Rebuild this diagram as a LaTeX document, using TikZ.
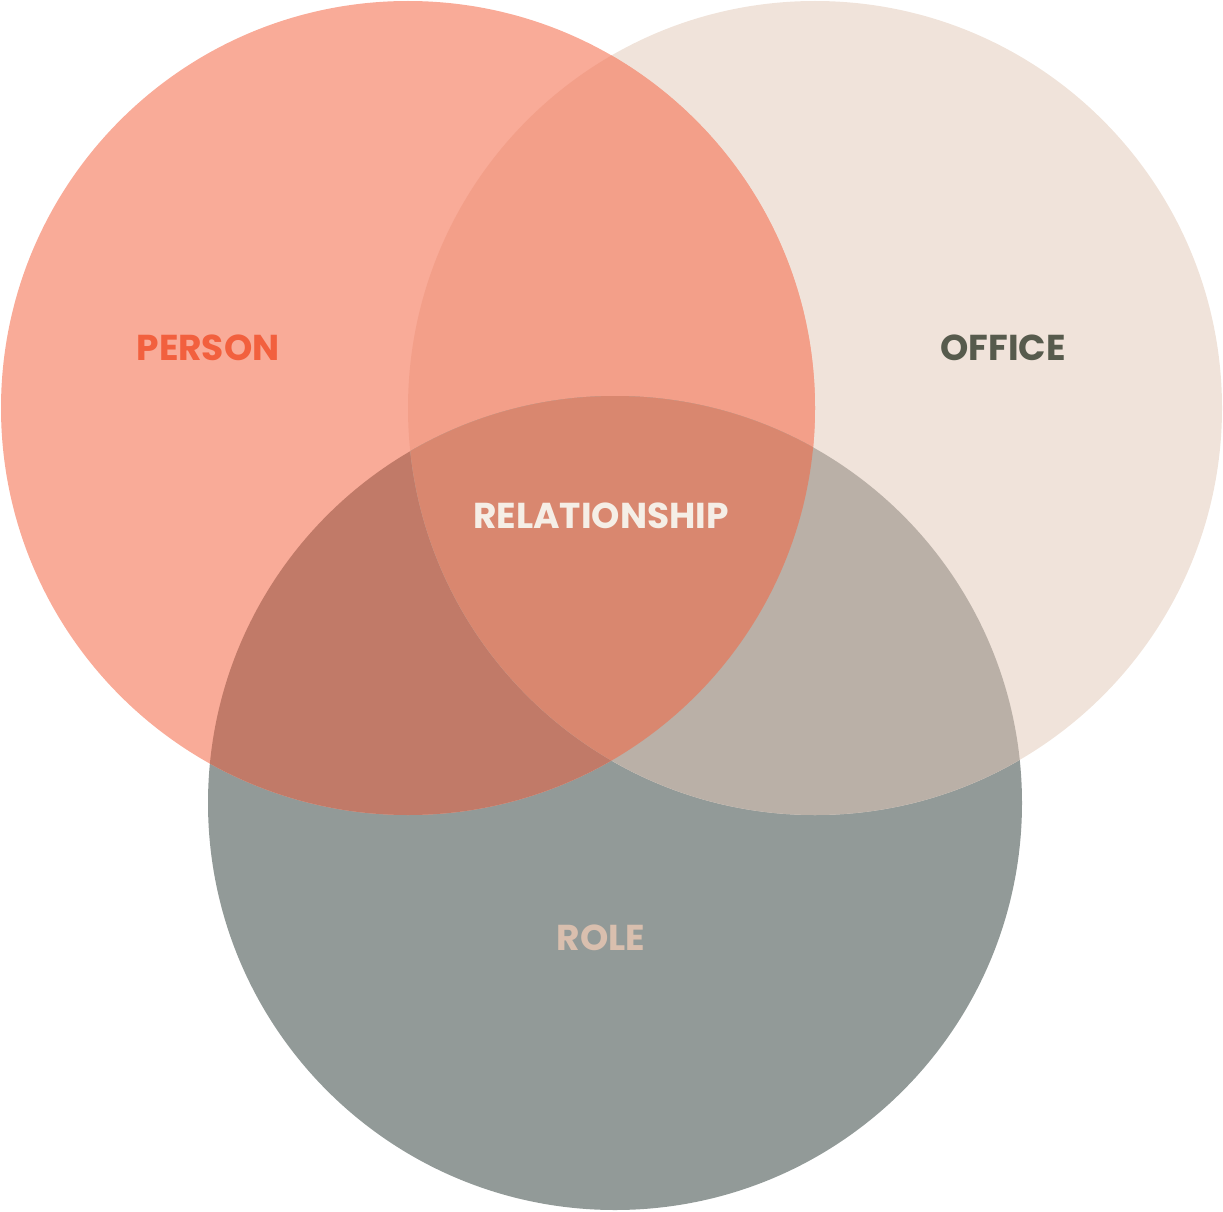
\documentclass[tikz,border=0pt]{standalone}
\usepackage{fontspec}
\setmainfont{Poppins}
\definecolor{cP}{HTML}{F9AB98}
\definecolor{cO}{HTML}{F0E3DA}
\definecolor{cR}{HTML}{929A98}
\definecolor{cPO}{HTML}{F39F89}
\definecolor{cPR}{HTML}{C17A68}
\definecolor{cOR}{HTML}{BAB0A7}
\definecolor{cAll}{HTML}{D9876F}
\definecolor{tP}{HTML}{F2603E}
\definecolor{tO}{HTML}{575B4D}
\definecolor{tR}{HTML}{D9BFAE}
\definecolor{tA}{HTML}{F5EEE6}
\tikzset{lbl/.style={font=\bfseries\fontsize{36}{36}\selectfont}}
\begin{document}
\begin{tikzpicture}[x=1pt,y=-1pt]
\useasboundingbox (0,0) rectangle (1223,1212);
\def\P{(408,408) circle (407)}
\def\O{(815,408) circle (407)}
\def\R{(615,803) circle (407)}
\fill[cR] \R;
\fill[cO] \O;
\fill[cP] \P;
\begin{scope}\clip \P; \fill[cPO] \O; \end{scope}
\begin{scope}\clip \P; \fill[cPR] \R; \end{scope}
\begin{scope}\clip \O; \fill[cOR] \R; \end{scope}
\begin{scope}\clip \P; \clip \O; \fill[cAll] \R; \end{scope}
\node[lbl,text=tP] (person) at (208,348) {PERSON};
\node[lbl,text=tO] (office) at (1003,348) {OFFICE};
\node[lbl,text=tR] (role) at (601,938) {ROLE};
\node[lbl,text=tA] (rel) at (601,516) {RELATIONSHIP};
\end{tikzpicture}
\end{document}
